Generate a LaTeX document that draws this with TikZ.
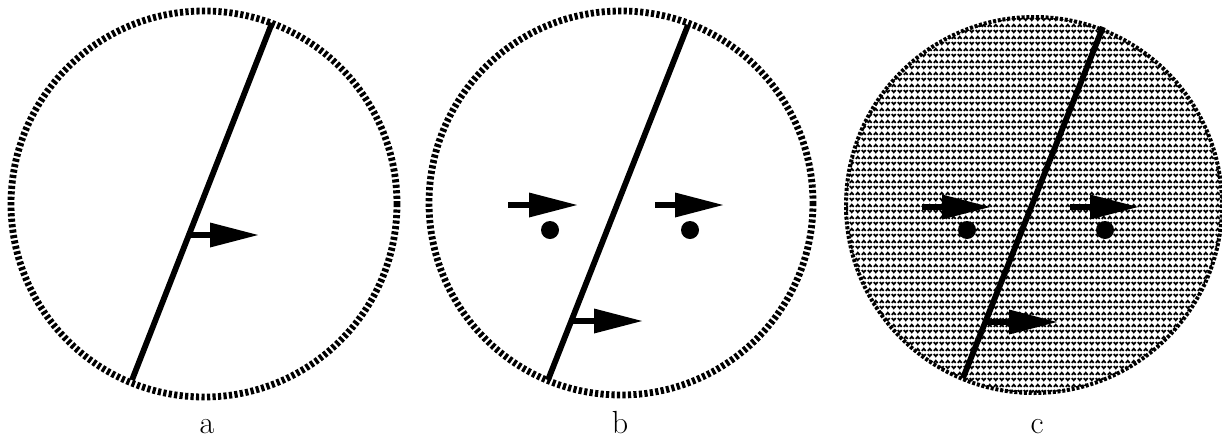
\documentclass[tikz,border=0pt]{standalone}
\usetikzlibrary{patterns}
\pgfdeclarepatternformonly{chevrons}{\pgfqpoint{0pt}{0pt}}{\pgfqpoint{3.1pt}{5.8pt}}{\pgfqpoint{3.1pt}{5.8pt}}{%
  \pgfsetlinewidth{0.95pt}%
  \pgfpathmoveto{\pgfqpoint{0.45pt}{3.7pt}}\pgfpathlineto{\pgfqpoint{1.55pt}{4.8pt}}\pgfpathlineto{\pgfqpoint{2.65pt}{3.7pt}}%
  \pgfpathmoveto{\pgfqpoint{0.45pt}{2.0pt}}\pgfpathlineto{\pgfqpoint{1.55pt}{0.9pt}}\pgfpathlineto{\pgfqpoint{2.65pt}{2.0pt}}%
  \pgfusepath{stroke}%
}
\tikzset{
  rim/.style={line width=3.4pt, dash pattern=on 1.6pt off 1.15pt},
  rimc/.style={line width=2pt, dash pattern=on 1.5pt off 0.9pt},
  cut/.style={line width=2.9pt},
  shaft/.style={line width=3.4pt},
  head/.style={fill=black},
  dot/.style={fill=black},
  lab/.style={anchor=base, font=\fontsize{16}{18}\selectfont, inner sep=0pt},
}
% arrow: start x, y, tip x
\newcommand\vecarrow[3]{%
  \draw[shaft] (#1,#2) -- ({#3-46},#2);
  \fill[head] ({#3-48},{#2-12.5}) -- (#3,#2) -- ({#3-48},{#2+12.5}) -- cycle;
}
\begin{document}
\begin{tikzpicture}[x=0.5pt,y=-0.5pt]
\useasboundingbox (0,0) rectangle (1222,440);
% ---- a ----
\draw[rim] (204,204) circle[radius=193];
\coordinate (a1) at (272,23);
\coordinate (a2) at (132,380);
\draw[cut] (a1) -- (a2);
\vecarrow{189}{235}{258}
\node[lab] (la) at (207,433) {a};
% ---- b ----
\draw[rim] (621,203) circle[radius=192];
\coordinate (b1) at (688,25);
\coordinate (b2) at (548,380);
\draw[cut] (b1) -- (b2);
\vecarrow{508}{205}{577}
\vecarrow{655}{205}{723}
\vecarrow{571}{321}{642}
\fill[dot] (550,230) circle[radius=9];
\fill[dot] (690,230) circle[radius=9];
\node[lab] (lb) at (620,433) {b};
% ---- c ----
\fill[pattern=chevrons, pattern color=black] (1034,205) circle[radius=188];
\draw[rimc] (1034,205) circle[radius=188];
\coordinate (c1) at (1103,27);
\coordinate (c2) at (963,378);
\draw[cut] (c1) -- (c2);
\vecarrow{922}{207}{990}
\vecarrow{1070}{207}{1138}
\vecarrow{986}{322}{1057}
\fill[dot] (967,230) circle[radius=9];
\fill[dot] (1105,230) circle[radius=9];
\node[lab] (lc) at (1037,433) {c};
\end{tikzpicture}
\end{document}
